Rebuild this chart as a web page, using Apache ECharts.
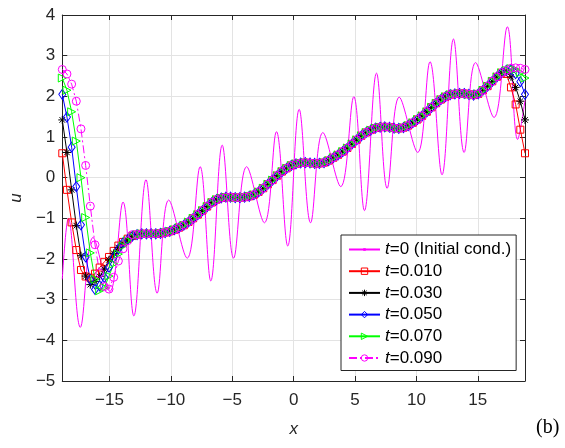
<!DOCTYPE html>
<html><head><meta charset="utf-8">
<script src="https://cdn.jsdelivr.net/npm/echarts@6/dist/echarts.min.js"></script>
<style>html,body{margin:0;padding:0;background:#fff}#c{width:565px;height:448px}</style>
</head><body><div id="c"></div>
<script>
// ---- axis ticks ----
const xTicks = [-15, -10, -5, 0, 5, 10, 15];
const xMin = -6 * Math.PI, xMax = 6 * Math.PI;
const nPts = 100;  // sample grid of the computed solutions

// ---- t = 0 (initial condition): read extrema (x, u) ----
const t0X = [-18.85, -18.35, -17.38, -16.35, -14.97, -13.9, -13.02, -12.03, -11.12, -10.18, -8.67, -7.62, -6.75, -5.82, -4.89, -3.83, -2.38, -1.4, -0.48, 0.45, 1.38, 2.38, 3.84, 4.9, 5.77, 6.75, 7.62, 8.6, 10.11, 11.11, 12.09, 13.02, 13.89, 14.82, 16.33, 17.41, 18.25, 18.85];
const t0Y = [-2.5, -1.0, -3.68, -1.47, -2.8, -0.6, -3.4, -0.05, -2.84, -0.55, -1.98, 0.27, -2.54, 0.8, -1.98, 0.27, -1.11, 1.13, -1.68, 1.68, -1.11, 1.11, -0.22, 1.99, -0.81, 2.57, -0.26, 1.98, 0.62, 2.85, 0.07, 3.41, 0.62, 2.83, 1.48, 3.71, 0.94, 1.9];

// ---- t > 0 : shared middle part (grid points 16..94) ----
const midU = [-1.40, -1.38, -1.38, -1.38, -1.38, -1.37, -1.35, -1.32, -1.28, -1.23,
  -1.17, -1.09, -1.00, -0.91, -0.81, -0.71, -0.61, -0.54, -0.50, -0.48,
  -0.48, -0.49, -0.49, -0.48, -0.46, -0.42, -0.35, -0.26, -0.16, -0.06,
  0.05, 0.15, 0.23, 0.30, 0.34, 0.36, 0.37, 0.36, 0.35, 0.35,
  0.37, 0.42, 0.49, 0.56, 0.64, 0.73, 0.83, 0.93, 1.03, 1.11,
  1.17, 1.22, 1.24, 1.25, 1.24, 1.22, 1.21, 1.23, 1.28, 1.35,
  1.43, 1.52, 1.62, 1.73, 1.83, 1.92, 1.99, 2.04, 2.06, 2.07,
  2.07, 2.05, 2.03, 2.06, 2.15, 2.25, 2.37, 2.48, 2.58];

// left edge (grid points 0..15) per time
const left010 = [0.60, -0.30, -1.10, -1.78, -2.27, -2.43, -2.46, -2.36, -2.21, -2.07, -1.95, -1.80, -1.67, -1.58, -1.50, -1.43];
const left030 = [1.42, 0.62, -0.30, -1.18, -1.92, -2.42, -2.63, -2.55, -2.43, -2.25, -2.02, -1.86, -1.72, -1.62, -1.53, -1.45];
const left050 = [2.05, 1.49, 0.75, -0.22, -1.16, -1.95, -2.50, -2.75, -2.66, -2.45, -2.20, -1.96, -1.76, -1.60, -1.52, -1.44];
const left070 = [2.45, 2.15, 1.62, 0.90, 0.00, -0.98, -1.85, -2.50, -2.78, -2.70, -2.42, -2.12, -1.88, -1.68, -1.55, -1.46];
const left090 = [2.66, 2.55, 2.30, 1.88, 1.20, 0.30, -0.70, -1.65, -2.35, -2.68, -2.74, -2.45, -2.05, -1.75, -1.55, -1.40];
// right edge (grid points 95..99) per time
const right010 = [2.55, 2.22, 1.80, 1.18, 0.60];
const right030 = [2.62, 2.48, 2.22, 1.88, 1.42];
const right050 = [2.64, 2.66, 2.56, 2.36, 2.05];
const right070 = [2.64, 2.68, 2.66, 2.58, 2.45];
const right090 = [2.64, 2.69, 2.70, 2.69, 2.66];

const names = ['t=0 (Initial cond.)', 't=0.010', 't=0.030', 't=0.050', 't=0.070', 't=0.090'];

const gridX = [];
for (let k = 0; k < nPts; k++) gridX.push(xMin + k * (xMax - xMin) / (nPts - 1));
function build(left, right) {
  const u = left.concat(midU, right);
  return gridX.map((x, i) => [x, u[i]]);
}
const t0Data = t0X.map((x, i) => [x, t0Y[i]]);

const FONT = '"Liberation Sans", Arial, Helvetica, sans-serif';
const AX = '#262626';
const minus = v => (v < 0 ? '\u2212' + (-v) : String(v));
const asterisk = 'path://M0,-5L0,5M-5,0L5,0M-3.5,-3.5L3.5,3.5M-3.5,3.5L3.5,-3.5';
const smallDot = 'path://M0,0L0,0M10,10L10,10M3,3L7,3L7,7L3,7Z';

function mk(name, data, col, symbol, size, extra) {
  return Object.assign({
    name, type: 'line', data, xAxisIndex: 0, yAxisIndex: 0,
    color: col, symbol, symbolSize: size, showSymbol: true,
    lineStyle: { color: col, width: 1 },
    itemStyle: { color: 'rgba(0,0,0,0)', borderColor: col, borderWidth: 1 },
    emphasis: { disabled: true }, animation: false, clip: true
  }, extra || {});
}

const series = [
  { name: names[0], type: 'line', data: t0Data, smooth: 0.38, color: '#ff00ff',
    symbol: smallDot, symbolSize: 10, showSymbol: false,
    lineStyle: { color: '#ff00ff', width: 1 }, itemStyle: { color: '#ff00ff', borderWidth: 0 },
    emphasis: { disabled: true }, animation: false },
  mk(names[1], build(left010, right010), '#ff0000', 'rect', 7),
  mk(names[2], build(left030, right030), '#000000', asterisk, 8),
  mk(names[3], build(left050, right050), '#0000ff', 'diamond', [7, 10]),
  mk(names[4], build(left070, right070), '#00ff00', 'triangle', 8, { symbolRotate: -90 }),
  mk(names[5], build(left090, right090), '#ff00ff', 'circle', 8, { lineStyle: { color: '#ff00ff', width: 1, type: [8, 3, 2, 3] } })
];

const legendData = names.map((n, i) => i === 0
  ? { name: n, itemStyle: { color: '#ff00ff', borderColor: '#ff00ff', borderWidth: 0 } }
  : { name: n });

const chart = echarts.init(document.getElementById('c'), null, { renderer: 'canvas' });
chart.setOption({
  backgroundColor: '#fff',
  animation: false,
  grid: { left: 52, right: 40, top: 15, bottom: 67, containLabel: false },
  xAxis: [
    { type: 'value', min: xMin, max: xMax, position: 'bottom',
      axisLine: { show: true, onZero: false, lineStyle: { color: AX, width: 1 } },
      axisTick: { show: true, inside: true, length: 5, customValues: xTicks, lineStyle: { color: AX } },
      axisLabel: { customValues: xTicks, formatter: minus, color: AX, fontSize: 17, fontFamily: FONT, margin: 11 },
      splitLine: { show: true, lineStyle: { color: '#e3e3e3', width: 1 } },
      name: 'x', nameLocation: 'middle', nameGap: 40,
      nameTextStyle: { fontStyle: 'italic', fontSize: 17, fontFamily: FONT, color: AX } },
    { type: 'value', min: xMin, max: xMax, position: 'top',
      axisLine: { show: true, onZero: false, lineStyle: { color: AX, width: 1 } },
      axisTick: { show: true, inside: true, length: 5, customValues: xTicks, lineStyle: { color: AX } },
      axisLabel: { show: false }, splitLine: { show: false } }
  ],
  yAxis: [
    { type: 'value', min: -5, max: 4, interval: 1, position: 'left',
      axisLine: { show: true, onZero: false, lineStyle: { color: AX, width: 1 } },
      axisTick: { show: true, inside: true, length: 5, lineStyle: { color: AX } },
      axisLabel: { formatter: minus, color: AX, fontSize: 17, fontFamily: FONT, margin: 7 },
      splitLine: { show: true, lineStyle: { color: '#e3e3e3', width: 1 } },
      name: 'u', nameLocation: 'middle', nameGap: 33, nameRotate: 90,
      nameTextStyle: { fontStyle: 'italic', fontSize: 17, fontFamily: FONT, color: AX } },
    { type: 'value', min: -5, max: 4, interval: 1, position: 'right',
      axisLine: { show: true, onZero: false, lineStyle: { color: AX, width: 1 } },
      axisTick: { show: true, inside: true, length: 5, lineStyle: { color: AX } },
      axisLabel: { show: false }, splitLine: { show: false } }
  ],
  legend: {
    orient: 'vertical', left: 341, top: 235,
    backgroundColor: '#fff', borderColor: AX, borderWidth: 1, borderRadius: 0,
    padding: [6, 5, 4, 7], itemWidth: 31, itemHeight: 8, itemGap: 4.7,
    selectedMode: false,
    itemStyle: { color: 'rgba(0,0,0,0)', borderColor: 'inherit', borderWidth: 1 },
    data: legendData,
    formatter: n => '{i|t}{n|' + n.slice(1) + '}',
    textStyle: { fontSize: 17, fontFamily: FONT, color: '#000', lineHeight: 17,
      rich: { i: { fontStyle: 'italic', fontSize: 17, lineHeight: 17, fontFamily: FONT, color: '#000' },
              n: { fontSize: 17, lineHeight: 17, fontFamily: FONT, color: '#000' } } }
  },
  graphic: [{ type: 'text', left: 536, top: 418,
    style: { text: '(b)', font: '20px "Liberation Serif", "Times New Roman", serif', fill: '#000' } }],
  series
});
</script></body></html>
